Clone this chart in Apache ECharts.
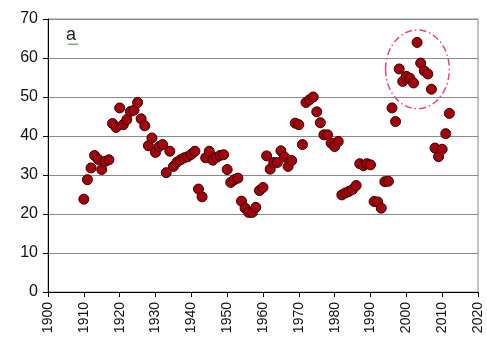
<!DOCTYPE html>
<html>
<head>
<meta charset="utf-8">
<script src="https://cdn.jsdelivr.net/npm/echarts@6/dist/echarts.min.js"></script>
<style>
  html, body { margin: 0; padding: 0; background: #ffffff; }
  #chart { width: 487px; height: 346px; }
</style>
</head>
<body>
<div id="chart"></div>
<script>
// Annual values, one per year
const years = [
  1910, 1911, 1912, 1913, 1914, 1915, 1916, 1917, 1918, 1919,
  1920, 1921, 1922, 1923, 1924, 1925, 1926, 1927, 1928, 1929,
  1930, 1931, 1932, 1933, 1934, 1935, 1936, 1937, 1938, 1939,
  1940, 1941, 1942, 1943, 1944, 1945, 1946, 1947, 1948, 1949,
  1950, 1951, 1952, 1953, 1954, 1955, 1956, 1957, 1958, 1959,
  1960, 1961, 1962, 1963, 1964, 1965, 1966, 1967, 1968, 1969,
  1970, 1971, 1972, 1973, 1974, 1975, 1976, 1977, 1978, 1979,
  1980, 1981, 1982, 1983, 1984, 1985, 1986, 1987, 1988, 1989,
  1990, 1991, 1992, 1993, 1994, 1995, 1996, 1997, 1998, 1999,
  2000, 2001, 2002, 2003, 2004, 2005, 2006, 2007, 2008, 2009,
  2010, 2011, 2012
];
const values = [
  23.8, 28.8, 31.8, 35.0, 34.0, 31.4, 33.5, 33.9, 43.2, 42.2,
  47.2, 42.9, 44.2, 46.3, 46.6, 48.6, 44.4, 42.6, 37.5, 39.5,
  35.8, 37.3, 37.8, 30.6, 36.1, 32.2, 33.3, 33.9, 34.4, 34.7,
  35.3, 36.1, 26.4, 24.4, 34.4, 36.1, 33.8, 34.5, 35.0, 35.2,
  31.4, 28.1, 28.8, 29.2, 23.3, 21.5, 20.4, 20.4, 21.7, 26.0,
  26.8, 34.9, 31.5, 33.2, 33.2, 36.2, 34.6, 32.2, 33.7, 43.3,
  42.9, 37.8, 48.6, 49.3, 50.0, 46.2, 43.4, 40.3, 40.3, 38.2,
  37.3, 38.6, 24.9, 25.4, 25.8, 26.3, 27.3, 32.9, 32.4, 32.9,
  32.6, 23.2, 23.1, 21.5, 28.3, 28.4, 47.2, 43.7, 57.2, 54.0,
  55.3, 54.8, 53.6, 64.0, 58.7, 56.7, 55.9, 52.0, 36.9, 34.7,
  36.6, 40.6, 45.8
];

// Axis settings
const xMin = 1900, xMax = 2020, xStep = 10;
const yMin = 0, yMax = 70, yStep = 10;

// Highlighted cluster outline (data units: centre year/value, half-widths)
const ringCentre = [2003.1, 57.1];
const ringHalf = [8.9, 10.1];

const points = years.map((y, i) => [y, values[i]]);

const chart = echarts.init(document.getElementById('chart'), null, { renderer: 'canvas' });

const axisFont = 'Liberation Sans, Arial, sans-serif';

chart.setOption({
  animation: false,
  backgroundColor: '#ffffff',
  grid: {
    left: 48, right: 9, top: 19, bottom: 54,
    containLabel: false,
    outerBoundsMode: 'none',
    show: true,
    borderColor: '#8a8a8a',
    borderWidth: 1
  },
  xAxis: {
    type: 'value',
    min: xMin, max: xMax, interval: xStep,
    axisLine: { show: true, onZero: false, lineStyle: { color: '#000000', width: 1 } },
    axisTick: { show: true, inside: false, length: 5, lineStyle: { color: '#000000' } },
    splitLine: { show: false },
    axisLabel: {
      rotate: 90, margin: 10,
      color: '#111111', fontSize: 14, fontFamily: axisFont,
      formatter: (v) => String(v)
    }
  },
  yAxis: {
    type: 'value',
    min: yMin, max: yMax, interval: yStep,
    axisLine: { show: true, onZero: false, lineStyle: { color: '#000000', width: 1 } },
    axisTick: { show: true, inside: false, length: 5, lineStyle: { color: '#000000' } },
    splitLine: { show: true, lineStyle: { color: '#8a8a8a', width: 1 } },
    axisLabel: {
      margin: 10,
      color: '#111111', fontSize: 16, fontFamily: axisFont
    }
  },
  series: [{
    type: 'scatter',
    data: points,
    symbol: 'circle',
    symbolSize: 10,
    itemStyle: {
      color: '#a3000c',
      borderColor: '#3a0000',
      borderWidth: 1,
      opacity: 1
    },
    z: 5
  }]
});

// Dash-dot ellipse around the recent high values, placed in data units
const c = chart.convertToPixel({ gridIndex: 0 }, ringCentre);
const e = chart.convertToPixel({ gridIndex: 0 }, [ringCentre[0] + ringHalf[0], ringCentre[1] + ringHalf[1]]);
const rx = Math.abs(e[0] - c[0]);
const ry = Math.abs(c[1] - e[1]);

// Small green wavy underline beneath the panel letter
const wave = [];
for (let i = 0; i <= 10; i++) {
  wave.push([68 + i * 1, 45 + (i % 2 === 0 ? 0 : -1.5)]);
}

chart.setOption({
  graphic: [
    {
      type: 'ellipse',
      shape: { cx: c[0], cy: c[1], rx: rx, ry: ry },
      style: {
        fill: null,
        stroke: '#e04a72',
        lineWidth: 1.5,
        lineDash: [7, 3, 1.5, 3]
      },
      z: 10
    },
    {
      type: 'text',
      left: 66, top: 26,
      style: {
        text: 'a',
        fontSize: 18,
        fontFamily: axisFont,
        fill: '#222222'
      },
      z: 10
    },
    {
      type: 'polyline',
      shape: { points: wave },
      style: { stroke: '#4caf50', lineWidth: 1, fill: null },
      z: 10
    }
  ]
});
</script>
</body>
</html>
